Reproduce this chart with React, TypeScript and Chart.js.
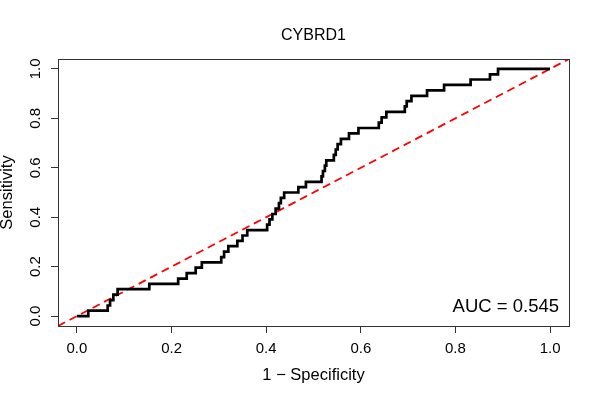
import React, { useEffect, useRef } from "react";
import { Chart, registerables } from "chart.js";

Chart.register(...registerables);

const chartTitle = "CYBRD1";
const xAxisTitle = "1 − Specificity";
const yAxisTitle = "Sensitivity";
const aucLabel = "AUC = 0.545";

// ROC curve vertices (1 - specificity, sensitivity)
const fpr = [
  0, 0.024, 0.065, 0.07, 0.077, 0.086, 0.153, 0.214, 0.232, 0.251, 0.264, 0.305,
  0.311, 0.32, 0.339, 0.35, 0.36, 0.402, 0.407, 0.413, 0.42, 0.427, 0.431, 0.438,
  0.468, 0.484, 0.517, 0.52, 0.524, 0.527, 0.543, 0.547, 0.551, 0.558, 0.575, 0.595,
  0.638, 0.644, 0.654, 0.693, 0.697, 0.707, 0.74, 0.776, 0.832, 0.873, 0.89, 1.0,
];
const tpr = [
  0, 0.022, 0.043, 0.065, 0.087, 0.109, 0.13, 0.152, 0.174, 0.196, 0.217, 0.239,
  0.261, 0.283, 0.304, 0.326, 0.348, 0.37, 0.391, 0.413, 0.435, 0.457, 0.478, 0.5,
  0.522, 0.543, 0.565, 0.587, 0.609, 0.63, 0.652, 0.674, 0.696, 0.717, 0.739, 0.761,
  0.783, 0.804, 0.826, 0.848, 0.87, 0.891, 0.913, 0.935, 0.957, 0.978, 1.0, 1.0,
];

const axisMin = -0.04;
const axisMax = 1.04;
const diagonalX = [axisMin, axisMax];
const diagonalY = [axisMin, axisMax];

const tickValues = [0, 0.2, 0.4, 0.6, 0.8, 1.0];
const tickLabels = ["0.0", "0.2", "0.4", "0.6", "0.8", "1.0"];

const FONT = "'Liberation Sans', Arial, Helvetica, sans-serif";

const overlayPlugin = {
  id: "rOverlay",
  afterDraw(chart: any) {
    const { ctx, chartArea } = chart;
    const ys = chart.scales.y;
    ctx.save();
    // plot box
    ctx.strokeStyle = "#333";
    ctx.lineWidth = 1;
    ctx.strokeRect(
      Math.round(chartArea.left) + 0.5,
      Math.round(chartArea.top) + 0.5,
      Math.round(chartArea.right - chartArea.left),
      Math.round(chartArea.bottom - chartArea.top)
    );
    // y tick labels (rotated, R style)
    ctx.fillStyle = "#000";
    ctx.font = `15px ${FONT}`;
    ctx.textAlign = "center";
    ctx.textBaseline = "middle";
    tickValues.forEach((v, i) => {
      const py = ys.getPixelForValue(v);
      ctx.save();
      ctx.translate(36, py);
      ctx.rotate(-Math.PI / 2);
      ctx.fillText(tickLabels[i], 0, 0);
      ctx.restore();
    });
    // AUC label
    ctx.font = `18.5px ${FONT}`;
    ctx.textAlign = "right";
    ctx.textBaseline = "alphabetic";
    ctx.fillText(aucLabel, chartArea.right - 10, chartArea.bottom - 14.5);
    ctx.restore();
  },
};

export default function App() {
  const canvasRef = useRef<HTMLCanvasElement | null>(null);

  useEffect(() => {
    if (!canvasRef.current) return;
    const rocPoints = fpr.map((x, i) => ({ x, y: tpr[i] }));
    const diagPoints = diagonalX.map((x, i) => ({ x, y: diagonalY[i] }));
    const chart = new Chart(canvasRef.current, {
      type: "scatter",
      data: {
        datasets: [
          {
            label: "diagonal",
            data: diagPoints,
            showLine: true,
            borderColor: "#ff0000",
            borderWidth: 1.8,
            borderDash: [8, 5],
            pointRadius: 0,
            order: 1,
          },
          {
            label: "ROC",
            data: rocPoints,
            showLine: true,
            stepped: true,
            borderColor: "#000000",
            borderWidth: 2.7,
            pointRadius: 0,
            order: 0,
          } as any,
        ],
      },
      options: {
        animation: false,
        responsive: false,
        devicePixelRatio: 1,
        layout: { padding: { left: 0, right: 31, top: 0, bottom: 0 } },
        plugins: {
          legend: { display: false },
          tooltip: { enabled: false },
          title: {
            display: true,
            text: chartTitle,
            fullSize: false,
            color: "#000",
            font: { size: 16, family: FONT, weight: "normal", lineHeight: 1 },
            padding: { top: 28, bottom: 15 },
          },
        },
        scales: {
          x: {
            type: "linear",
            min: axisMin,
            max: axisMax,
            afterBuildTicks: (s: any) => {
              s.ticks = tickValues.map((v) => ({ value: v }));
            },
            afterFit: (s: any) => {
              s.height = 74;
            },
            ticks: {
              color: "#000",
              font: { size: 15, family: FONT, lineHeight: 1 },
              padding: 8,
              maxRotation: 0,
              minRotation: 0,
              callback: (_v: any, i: number) => tickLabels[i],
            },
            grid: {
              drawOnChartArea: false,
              drawTicks: true,
              tickLength: 7,
              color: "#333",
            },
            border: { display: false },
            title: {
              display: true,
              text: xAxisTitle,
              color: "#000",
              font: { size: 16.5, family: FONT, lineHeight: 1 },
              padding: { top: 0, bottom: 16 },
            },
          },
          y: {
            type: "linear",
            min: axisMin,
            max: axisMax,
            afterBuildTicks: (s: any) => {
              s.ticks = tickValues.map((v) => ({ value: v }));
            },
            afterFit: (s: any) => {
              s.width = 58;
            },
            ticks: { display: false },
            grid: {
              drawOnChartArea: false,
              drawTicks: true,
              tickLength: 7,
              color: "#333",
            },
            border: { display: false },
            title: {
              display: true,
              text: yAxisTitle,
              color: "#000",
              font: { size: 16.5, family: FONT, lineHeight: 0.925 },
              padding: { top: 0, bottom: 0 },
            },
          },
        },
      },
      plugins: [overlayPlugin],
    });
    return () => chart.destroy();
  }, []);

  return (
    <div style={{ position: "fixed", left: 0, top: 0, width: 600, height: 400, background: "#fff" }}>
      <canvas ref={canvasRef} width={600} height={400} style={{ width: 600, height: 400 }} />
    </div>
  );
}
